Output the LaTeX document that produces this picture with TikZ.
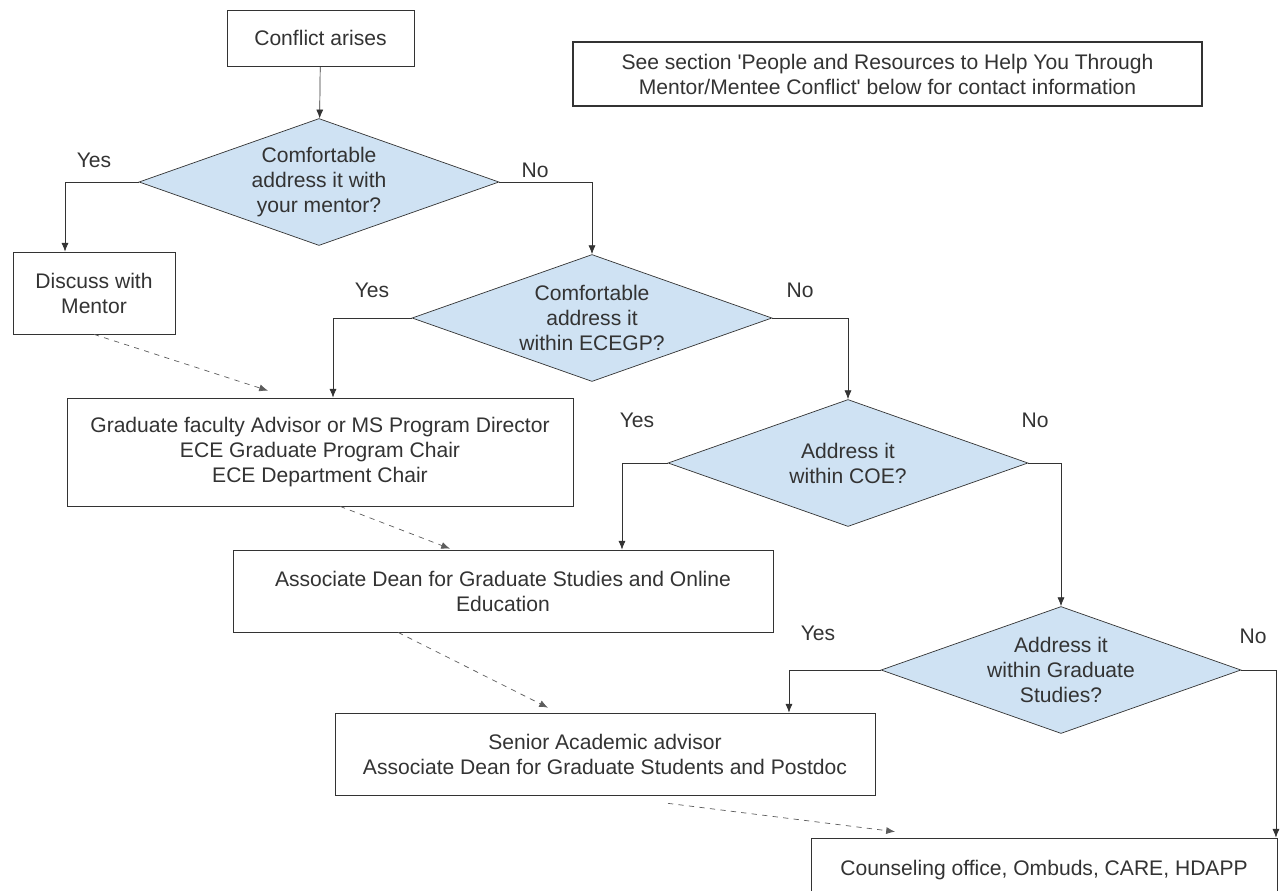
\documentclass[tikz,border=0pt]{standalone}
\usepackage{fontspec}
\setmainfont{Liberation Sans}
\newfontfamily\notefont{Liberation Sans}
\usepackage{xcolor}
\usetikzlibrary{shapes.geometric,arrows.meta}

\definecolor{qblue}{HTML}{CFE2F3}
\definecolor{edge}{HTML}{333333}

\begin{document}
\begin{tikzpicture}[x=0.02cm,y=-0.02cm,
  font=\fontsize{12}{14.2}\selectfont,
  block/.style={draw=edge,text=edge,align=center,inner sep=0pt},
  decision/.style={diamond,aspect=2.85,draw=edge,fill=qblue,text=edge,align=center,inner sep=0pt,
    minimum width=7.2cm,minimum height=2.54cm},
  line/.style={draw=edge,-{Latex[length=5pt,width=4pt]}},
  dashline/.style={draw=edge!80,dashed,-{Latex[length=5pt,width=4pt]}},
  answer/.style={text=edge}]
\useasboundingbox (0,0) rectangle (1285,890);
\clip (0,0) rectangle (1285,890);

% boxes
\node [block,minimum width=3.74cm,minimum height=1.12cm] (start) at (320.5,38) {Conflict arises};
\node [block,line width=1.6pt,minimum width=12.58cm,minimum height=1.28cm,font=\notefont\fontsize{12}{14.2}\selectfont] (note) at (887.5,74)
  {See section 'People and Resources to Help You Through\\Mentor/Mentee Conflict' below for contact information};
\node [block,minimum width=3.24cm,minimum height=1.64cm] (mentor) at (94,293) {Discuss with\\Mentor};
\node [block,minimum width=10.12cm,minimum height=2.16cm] (grad) at (320,452)
  {Graduate faculty Advisor or MS Program Director\\ECE Graduate Program Chair\\ECE Department Chair};
\node [block,minimum width=10.8cm,minimum height=1.64cm] (assoc) at (503,591)
  {Associate Dean for Graduate Studies and Online\\Education};
\node [block,minimum width=10.8cm,minimum height=1.64cm] (senior) at (605,754)
  {Senior Academic advisor\\Associate Dean for Graduate Students and Postdoc};
\node [block,minimum width=9.32cm,minimum height=1.3cm] (help) at (1044,870.5)
  {Counseling office, Ombuds, CARE, HDAPP};

% questions
\node [decision] (q1) at (319,182) {Comfortable\\address it with\\your mentor?};
\node [decision] (q2) at (592,318) {Comfortable\\address it\\within ECEGP?};
\node [decision] (q3) at (848,463) {Address it\\within COE?};
\node [decision] (q4) at (1061,670) {Address it\\within Graduate\\Studies?};

% answers
\node [answer] (y1) at (94,160) {Yes};
\node [answer] (n1) at (535,170) {No};
\node [answer] (y2) at (372,290) {Yes};
\node [answer] (n2) at (800,290) {No};
\node [answer] (y3) at (637,420) {Yes};
\node [answer] (n3) at (1035,420) {No};
\node [answer] (y4) at (818,633) {Yes};
\node [answer] (n4) at (1253,636) {No};

% flow
\draw [line] (start) -- (q1);
\draw [line] (q1.west) -| ([xshift=-0.58cm]mentor.north);
\draw [line] (q1.east) -| (q2.north);
\draw [line] (q2.west) -| ([xshift=0.26cm]grad.north);
\draw [line] (q2.east) -| (q3.north);
\draw [line] (q3.west) -| ([xshift=2.38cm]assoc.north);
\draw [line] (q3.east) -| (q4.north);
\draw [line] (q4.west) -| ([xshift=3.68cm]senior.north);
\draw [line] (q4.east) -| ([xshift=4.64cm]help.north);

% escalation
\draw [dashline] (mentor.south) -- ([shift={(-52,-7)}]grad.north);
\draw [dashline] ([shift={(20,0)}]grad.south) -- ([shift={(-53,-1)}]assoc.north);
\draw [dashline] ([shift={(-105,0)}]assoc.south) -- ([shift={(-57,-5)}]senior.north);
\draw [dashline] ([shift={(63,8)}]senior.south) -- ([shift={(-149,-6)}]help.north);
\end{tikzpicture}
\end{document}
